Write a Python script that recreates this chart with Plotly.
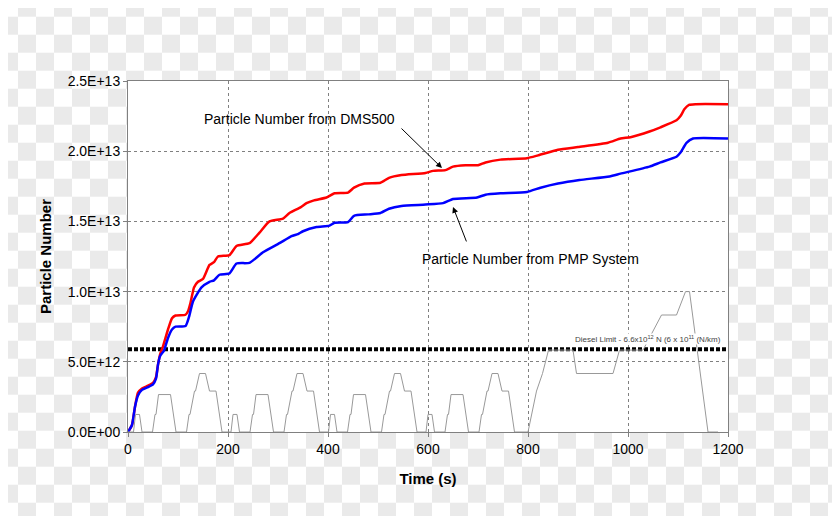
import base64
import plotly.graph_objects as go

# Particle number (cumulative) vs time
dms_t = [0, 8, 14, 20, 28, 40, 50, 56, 60, 64, 70, 80, 88, 95, 115, 120, 125, 132, 140, 150,
         163, 172, 180, 203, 217, 243, 263, 283, 310, 323, 345, 357, 372,
         397, 413, 440, 452, 473, 505, 522, 547, 595, 610, 635, 650, 675, 700, 715, 745, 798,
         820, 860, 900, 960, 985, 1005, 1043, 1065, 1097, 1105, 1113, 1122, 1135, 1200]
dms_n = [0, 0.5e12, 1.8e12, 2.8e12, 3.1e12, 3.3e12, 3.5e12, 3.9e12, 4.8e12, 5.5e12, 6.1e12,
         7.3e12, 8.1e12, 8.3e12, 8.35e12, 8.6e12, 9.2e12, 10.3e12, 10.7e12, 10.9e12, 11.9e12,
         12.1e12, 12.5e12, 12.6e12, 13.25e12, 13.45e12, 14.2e12, 15.0e12, 15.2e12, 15.6e12,
         16.0e12, 16.3e12, 16.5e12, 16.7e12, 17.0e12,
         17.05e12, 17.4e12, 17.7e12, 17.75e12, 18.1e12, 18.3e12, 18.45e12, 18.6e12, 18.65e12,
         18.9e12, 19.0e12, 19.0e12, 19.2e12, 19.4e12, 19.5e12, 19.7e12, 20.1e12, 20.3e12,
         20.6e12, 20.9e12, 21.0e12, 21.4e12, 21.7e12, 22.2e12, 22.5e12, 23.0e12, 23.3e12,
         23.35e12, 23.35e12]

pmp_t = [0, 8, 14, 20, 28, 40, 50, 56, 60, 64, 72, 80, 88, 95, 115, 122, 130, 147, 163,
         172, 183, 203, 217, 243, 270, 303, 327, 340, 350, 377, 403, 413, 440,
         452, 480, 505, 522, 547, 595, 630, 650, 698, 715, 745, 798, 825, 860, 903, 963, 985,
         1043, 1065, 1097, 1105, 1117, 1130, 1200]
pmp_n = [0, 0.5e12, 1.8e12, 2.6e12, 3.0e12, 3.2e12, 3.4e12, 3.8e12, 4.8e12, 5.4e12, 5.8e12,
         6.7e12, 7.3e12, 7.5e12, 7.55e12, 8.2e12, 9.3e12, 10.3e12, 10.7e12, 10.8e12,
         11.2e12, 11.3e12, 12.0e12, 12.05e12, 12.8e12, 13.45e12, 13.95e12, 14.1e12, 14.3e12,
         14.6e12, 14.7e12, 14.9e12, 14.95e12, 15.4e12, 15.5e12,
         15.6e12, 15.9e12, 16.1e12, 16.2e12, 16.3e12, 16.6e12, 16.7e12, 16.9e12, 17.0e12,
         17.1e12, 17.4e12, 17.7e12, 17.95e12, 18.2e12, 18.4e12, 18.9e12, 19.2e12, 19.6e12,
         19.9e12, 20.6e12, 20.9e12, 20.9e12]

# NEDC vehicle speed trace (km/h), drawn on a hidden second axis
speed_t = [0, 11, 15, 23, 28, 49, 54, 56, 61, 85, 96, 117, 122, 124, 133, 135, 143, 155, 163, 176, 188,
           195, 206, 210, 218, 223, 244, 249, 251, 256, 280, 291, 312, 317, 319, 328, 330, 338, 350, 358, 371, 383,
           390, 401, 405, 413, 418, 439, 444, 446, 451, 475, 486, 507, 512, 514, 523, 525, 533, 545, 553, 566, 578,
           585, 596, 600, 608, 613, 634, 639, 641, 646, 670, 681, 702, 707, 709, 718, 720, 728, 740, 748, 761, 773,
           780, 800, 817, 829, 841, 890, 897, 970, 983, 1030, 1067, 1097, 1115, 1123, 1160, 1180]
speed_v = [0, 0, 15, 15, 0, 0, 15, 15, 32, 32, 0, 0, 15, 15, 35, 35, 50, 50, 35, 35, 0,
           0, 0, 15, 15, 0, 0, 15, 15, 32, 32, 0, 0, 15, 15, 35, 35, 50, 50, 35, 35, 0,
           0, 0, 15, 15, 0, 0, 15, 15, 32, 32, 0, 0, 15, 15, 35, 35, 50, 50, 35, 35, 0,
           0, 0, 15, 15, 0, 0, 15, 15, 32, 32, 0, 0, 15, 15, 35, 35, 50, 50, 35, 35, 0,
           0, 0, 35, 50, 70, 70, 50, 50, 70, 70, 100, 100, 120, 120, 0, 0]

diesel_limit = 5.9e12

x_ticks = [0, 200, 400, 600, 800, 1000, 1200]
y_ticks = [0, 5e12, 1e13, 1.5e13, 2e13, 2.5e13]
y_labels = ["0.0E+00", "5.0E+12", "1.0E+13", "1.5E+13", "2.0E+13", "2.5E+13"]

FONT = "Liberation Sans, Arial, sans-serif"

# the page body adds an 8px offset, so the figure is 8px smaller than the window
# and the checker pattern is shifted back to line up with the page
svg = ('<svg xmlns="http://www.w3.org/2000/svg" width="832" height="508">'
       '<defs><pattern id="c" width="36" height="36" patternUnits="userSpaceOnUse" x="-8" y="-9.3">'
       '<rect width="36" height="36" fill="#ffffff"/>'
       '<rect x="18" width="18" height="18" fill="#eaeaea"/>'
       '<rect y="18" width="18" height="18" fill="#eaeaea"/></pattern></defs>'
       '<rect width="832" height="508" fill="url(#c)"/>'
       '<rect x="120" y="73" width="600" height="351" fill="#ffffff"/></svg>')
svg_uri = "data:image/svg+xml;base64," + base64.b64encode(svg.encode()).decode()

fig = go.Figure()

fig.add_trace(go.Scatter(
    x=speed_t, y=speed_v, mode='lines', yaxis='y2',
    line=dict(color='#999999', width=1), showlegend=False
))
fig.add_trace(go.Scatter(
    x=[0, 1200], y=[diesel_limit, diesel_limit], mode='lines',
    line=dict(color='black', width=4, dash='4px,2px'), showlegend=False
))
fig.add_trace(go.Scatter(
    x=dms_t, y=dms_n, mode='lines', name='DMS500',
    line=dict(color='#ff0000', width=2.5, shape='spline', smoothing=0.5), showlegend=False
))
fig.add_trace(go.Scatter(
    x=pmp_t, y=pmp_n, mode='lines', name='PMP',
    line=dict(color='#0000ff', width=2.5, shape='spline', smoothing=0.5), showlegend=False
))

fig.add_annotation(x=342, y=22.3e12, text="Particle Number from DMS500", showarrow=False,
                   font=dict(size=14, color='black', family=FONT))
fig.add_annotation(x=804, y=12.32e12, text="Particle Number from PMP System", showarrow=False,
                   font=dict(size=14, color='black', family=FONT))
fig.add_annotation(x=628, y=18.8e12, text="", showarrow=True, ax=-42, ay=-41,
                   arrowhead=2, arrowsize=1.2, arrowwidth=1, arrowcolor='black')
fig.add_annotation(x=650, y=16.03e12, text="", showarrow=True, ax=14, ay=36,
                   arrowhead=2, arrowsize=1.2, arrowwidth=1, arrowcolor='black')
fig.add_annotation(x=1188, y=6.62e12, xanchor='right', showarrow=False,
                   text="Diesel Limit - 6.6x10<sup>12</sup> N (6 x 10<sup>11</sup> (N/km)",
                   font=dict(size=8, color='#444444', family=FONT),
                   bgcolor='white', borderpad=0)

fig.add_layout_image(dict(
    source=svg_uri, xref='paper', yref='paper',
    x=-120 / 600, y=1 + 73 / 351, sizex=832 / 600, sizey=508 / 351,
    xanchor='left', yanchor='top', sizing='stretch', layer='below'
))

fig.update_layout(
    width=832, height=508,
    margin=dict(l=120, r=112, t=73, b=84),
    paper_bgcolor='white', plot_bgcolor='white',
    font=dict(family=FONT, size=14, color='black'),
    xaxis=dict(
        range=[0, 1200], tickvals=x_ticks,
        showline=True, linecolor='#808080', linewidth=1, mirror=True,
        ticks='outside', ticklen=4, tickcolor='#808080',
        showgrid=True, gridcolor='#808080', griddash='dot', gridwidth=1,
        zeroline=False,
        title=dict(text="<b>Time (s)</b>", font=dict(size=15), standoff=17)
    ),
    yaxis=dict(
        range=[0, 2.5e13], tickvals=y_ticks, ticktext=y_labels,
        showline=True, linecolor='#808080', linewidth=1, mirror=True,
        ticks='outside', ticklen=4, tickcolor='#808080',
        showgrid=True, gridcolor='#808080', griddash='dot', gridwidth=1,
        zeroline=False,
        title=dict(text="<b>Particle Number</b>", font=dict(size=15), standoff=12)
    ),
    yaxis2=dict(range=[0, 300], overlaying='y', visible=False),
)

fig.write_html("out.html")
